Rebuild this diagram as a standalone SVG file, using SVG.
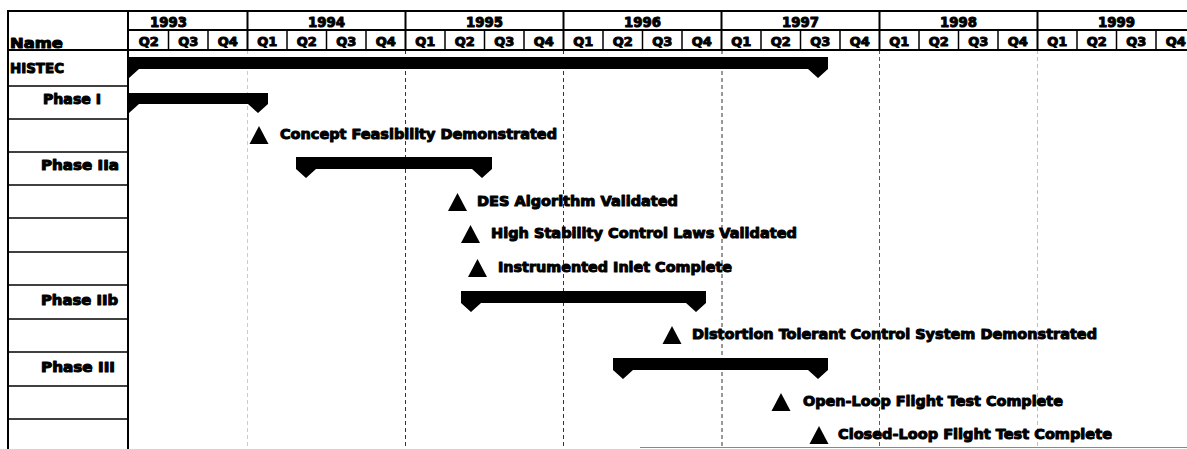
<svg xmlns="http://www.w3.org/2000/svg" width="1187" height="449" viewBox="0 0 1187 449">
<style>
.t{font-family:"DejaVu Sans","Liberation Sans",Arial,sans-serif;font-weight:bold;fill:#000;stroke:#000;stroke-width:1;stroke-linejoin:round}
.yr{font-size:14px;text-anchor:middle}
.q{font-size:13px;text-anchor:middle}
.lbl{font-size:13.5px}
.ms{font-size:14px}
.bd{stroke:#000;stroke-width:2;fill:none}
.rl{stroke:#000;stroke-width:1.5;fill:none}
.grid{stroke:#333;stroke-width:1;stroke-dasharray:4 3;fill:none}
.bar{fill:#000}
.tri{fill:#000}
</style>
<rect x="0" y="0" width="1187" height="449" fill="#fff"/>

<g id="grid">
  <line class="grid" x1="247.5" y1="50" x2="247.5" y2="449" stroke-opacity="0.25"/>
  <line class="grid" x1="405.5" y1="50" x2="405.5" y2="449"/>
  <line class="grid" x1="563.5" y1="50" x2="563.5" y2="449"/>
  <line class="grid" x1="722" y1="50" x2="722" y2="449"/>
  <line class="grid" x1="879.5" y1="50" x2="879.5" y2="449" stroke-opacity="0.8"/>
  <line class="grid" x1="1037.5" y1="50" x2="1037.5" y2="449" stroke-opacity="0.3"/>
  <line x1="640" y1="447.5" x2="1187" y2="447.5" stroke="#888" stroke-width="1"/>
</g>

<g id="header">
  <line class="bd" x1="8" y1="11" x2="1187" y2="11"/>
  <line class="bd" x1="128" y1="30" x2="1187" y2="30"/>
  <line class="bd" x1="8" y1="50" x2="1187" y2="50"/>
  <line class="bd" x1="8" y1="10" x2="8" y2="449"/>
  <line class="bd" x1="128" y1="10" x2="128" y2="449"/>
  <g class="bd">
    <line x1="247.5" y1="11" x2="247.5" y2="50"/>
    <line x1="405.5" y1="11" x2="405.5" y2="50"/>
    <line x1="563.5" y1="11" x2="563.5" y2="50"/>
    <line x1="721.5" y1="11" x2="721.5" y2="50"/>
    <line x1="879.5" y1="11" x2="879.5" y2="50"/>
    <line x1="1037.5" y1="11" x2="1037.5" y2="50"/>
  </g>
  <g class="rl">
    <line x1="168.5" y1="30" x2="168.5" y2="50"/>
    <line x1="208" y1="30" x2="208" y2="50"/>
    <line x1="287" y1="30" x2="287" y2="50"/>
    <line x1="326.5" y1="30" x2="326.5" y2="50"/>
    <line x1="366" y1="30" x2="366" y2="50"/>
    <line x1="445" y1="30" x2="445" y2="50"/>
    <line x1="484.5" y1="30" x2="484.5" y2="50"/>
    <line x1="524" y1="30" x2="524" y2="50"/>
    <line x1="603" y1="30" x2="603" y2="50"/>
    <line x1="642.5" y1="30" x2="642.5" y2="50"/>
    <line x1="682" y1="30" x2="682" y2="50"/>
    <line x1="761" y1="30" x2="761" y2="50"/>
    <line x1="800.5" y1="30" x2="800.5" y2="50"/>
    <line x1="840" y1="30" x2="840" y2="50"/>
    <line x1="919" y1="30" x2="919" y2="50"/>
    <line x1="958.5" y1="30" x2="958.5" y2="50"/>
    <line x1="998" y1="30" x2="998" y2="50"/>
    <line x1="1077" y1="30" x2="1077" y2="50"/>
    <line x1="1116.5" y1="30" x2="1116.5" y2="50"/>
    <line x1="1156" y1="30" x2="1156" y2="50"/>
  </g>
  <g class="t yr">
    <text x="168.5" y="27" textLength="37" lengthAdjust="spacingAndGlyphs">1993</text>
    <text x="326.5" y="27" textLength="37" lengthAdjust="spacingAndGlyphs">1994</text>
    <text x="484.5" y="27" textLength="37" lengthAdjust="spacingAndGlyphs">1995</text>
    <text x="642.5" y="27" textLength="37" lengthAdjust="spacingAndGlyphs">1996</text>
    <text x="800.5" y="27" textLength="37" lengthAdjust="spacingAndGlyphs">1997</text>
    <text x="958.5" y="27" textLength="37" lengthAdjust="spacingAndGlyphs">1998</text>
    <text x="1116.5" y="27" textLength="37" lengthAdjust="spacingAndGlyphs">1999</text>
  </g>
  <g class="t q">
    <text x="148.75" y="46">Q2</text>
    <text x="188.25" y="46">Q3</text>
    <text x="227.75" y="46">Q4</text>
    <text x="267.25" y="46">Q1</text>
    <text x="306.75" y="46">Q2</text>
    <text x="346.25" y="46">Q3</text>
    <text x="385.75" y="46">Q4</text>
    <text x="425.25" y="46">Q1</text>
    <text x="464.75" y="46">Q2</text>
    <text x="504.25" y="46">Q3</text>
    <text x="543.75" y="46">Q4</text>
    <text x="583.25" y="46">Q1</text>
    <text x="622.75" y="46">Q2</text>
    <text x="662.25" y="46">Q3</text>
    <text x="701.75" y="46">Q4</text>
    <text x="741.25" y="46">Q1</text>
    <text x="780.75" y="46">Q2</text>
    <text x="820.25" y="46">Q3</text>
    <text x="859.75" y="46">Q4</text>
    <text x="899.25" y="46">Q1</text>
    <text x="938.75" y="46">Q2</text>
    <text x="978.25" y="46">Q3</text>
    <text x="1017.75" y="46">Q4</text>
    <text x="1057.25" y="46">Q1</text>
    <text x="1096.75" y="46">Q2</text>
    <text x="1136.25" y="46">Q3</text>
    <text x="1175.75" y="46">Q4</text>
  </g>
  <text class="t lbl" x="10" y="48" textLength="53" lengthAdjust="spacingAndGlyphs">Name</text>
</g>

<g id="name-rows" class="rl">
  <line x1="8" y1="86" x2="128" y2="86"/>
  <line x1="8" y1="119" x2="128" y2="119"/>
  <line x1="8" y1="152" x2="128" y2="152"/>
  <line x1="8" y1="185" x2="128" y2="185"/>
  <line x1="8" y1="218" x2="128" y2="218"/>
  <line x1="8" y1="252" x2="128" y2="252"/>
  <line x1="8" y1="285" x2="128" y2="285"/>
  <line x1="8" y1="319" x2="128" y2="319"/>
  <line x1="8" y1="352" x2="128" y2="352"/>
  <line x1="8" y1="386" x2="128" y2="386"/>
  <line x1="8" y1="419" x2="128" y2="419"/>
</g>

<g id="histec">
  <text class="t lbl" x="10" y="73" textLength="54" lengthAdjust="spacingAndGlyphs">HISTEC</text>
  <path class="bar" d="M129,57 H828 V69 L818,78 L808,69 H139 L129,78 Z"/>
</g>

<g id="phase-1">
  <text class="t lbl" x="43" y="104" textLength="58" lengthAdjust="spacingAndGlyphs">Phase I</text>
  <path class="bar" d="M129,93 H268 V104 L258,113 L248,104 H139 L129,113 Z"/>
</g>

<g id="ms-concept">
  <polygon class="tri" points="249.5,144 259,126 268.5,144"/>
  <text class="t ms" x="280" y="139" textLength="277" lengthAdjust="spacingAndGlyphs">Concept Feasibility Demonstrated</text>
</g>

<g id="phase-2a">
  <text class="t lbl" x="41" y="170" textLength="78" lengthAdjust="spacingAndGlyphs">Phase IIa</text>
  <path class="bar" d="M296,157 H492 V169 L482,178 L472,169 H316 L306,178 L296,169 Z"/>
</g>

<g id="ms-des">
  <polygon class="tri" points="448,211 457.5,193 467,211"/>
  <text class="t ms" x="477" y="206" textLength="201" lengthAdjust="spacingAndGlyphs">DES Algorithm Validated</text>
</g>

<g id="ms-highstab">
  <polygon class="tri" points="461,243 470.5,225 480,243"/>
  <text class="t ms" x="491" y="238" textLength="306" lengthAdjust="spacingAndGlyphs">High Stability Control Laws Validated</text>
</g>

<g id="ms-inlet">
  <polygon class="tri" points="468,277 477.5,259 487,277"/>
  <text class="t ms" x="498" y="272" textLength="234" lengthAdjust="spacingAndGlyphs">Instrumented Inlet Complete</text>
</g>

<g id="phase-2b">
  <text class="t lbl" x="41" y="305" textLength="77" lengthAdjust="spacingAndGlyphs">Phase IIb</text>
  <path class="bar" d="M461,291 H706 V303 L696,312 L686,303 H481 L471,312 L461,303 Z"/>
</g>

<g id="ms-distortion">
  <polygon class="tri" points="662.5,344 672,326 681.5,344"/>
  <text class="t ms" x="692" y="339" textLength="405" lengthAdjust="spacingAndGlyphs">Distortion Tolerant Control System Demonstrated</text>
</g>

<g id="phase-3">
  <text class="t lbl" x="41" y="372" textLength="74" lengthAdjust="spacingAndGlyphs">Phase III</text>
  <path class="bar" d="M613,358 H828 V370 L818,379 L808,370 H633 L623,379 L613,370 Z"/>
</g>

<g id="ms-openloop">
  <polygon class="tri" points="771.5,411 781,393 790.5,411"/>
  <text class="t ms" x="803" y="406" textLength="260" lengthAdjust="spacingAndGlyphs">Open-Loop Flight Test Complete</text>
</g>

<g id="ms-closedloop">
  <polygon class="tri" points="809.5,444 819,426 828.5,444"/>
  <text class="t ms" x="838" y="439" textLength="274" lengthAdjust="spacingAndGlyphs">Closed-Loop Flight Test Complete</text>
</g>
</svg>
